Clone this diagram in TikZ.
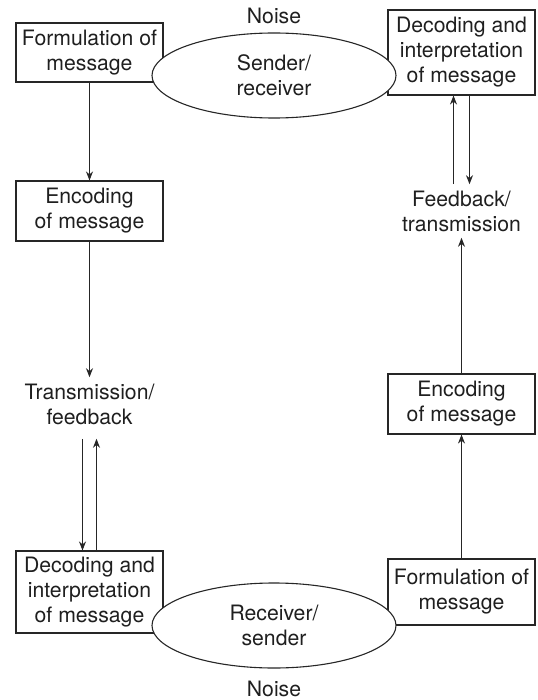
\documentclass[tikz,border=0pt]{standalone}
\usepackage{fontspec}
\setmainfont{TeX Gyre Heros}
\usepackage{tikz}
\usetikzlibrary{shapes.geometric}
\usetikzlibrary{arrows.meta}

\begin{document}
\begin{tikzpicture}[x=0.5pt,y=-0.5pt,>={Stealth[length=4.5pt,width=3.5pt]},
  every node/.style={font=\fontsize{10.6pt}{12.5pt}\selectfont,text=black!88},
  box/.style={draw=black!85,line width=0.55pt,fill=white,align=center,inner sep=0pt,
    minimum width=73.5pt},
  oval/.style={draw=black!85,ellipse,line width=0.55pt,fill=white,align=center,
    inner sep=0pt,minimum width=122pt,minimum height=42.5pt},
  lbl/.style={align=center,inner sep=3pt},
  link/.style={->,draw=black!85,line width=0.5pt}]

\useasboundingbox (0,0) rectangle (537,700);

% Sender side
\node (noisetop) at (274,16) {Noise};
\node[box,minimum height=29.5pt] (formtop) at (89.5,52.5) {Formulation of\\message};
\node[box,minimum height=42.5pt] (dectop) at (461.5,52.5)
{Decoding and\\interpretation\\of message};
\node[oval] (sender) at (274,75.5) {Sender/\\receiver};

% Left column
\node[box,minimum height=30pt] (encleft) at (89.5,211) {Encoding\\of message};
\node[lbl] (trans) at (89.5,404) {Transmission/\\feedback};

% Right column
\node[lbl] (feed) at (461.5,211) {Feedback/\\transmission};
\node[box,minimum height=30pt] (encright) at (461.5,404) {Encoding\\of message};

% Receiver side
\node[box,minimum height=41pt] (decbot) at (89.5,592)
{Decoding and\\interpretation\\of message};
\node[box,minimum height=33pt] (formbot) at (461.5,592) {Formulation of\\message};
\node[oval] (receiver) at (274,625.5) {Receiver/\\sender};
\node (noisebot) at (274,689) {Noise};

% Arrows down the left
\draw[link] (formtop) -- (encleft);
\draw[link] (encleft) -- (trans);
\draw[link] ([xshift=-3.5pt,yshift=-4pt]trans.south) -- ([xshift=-3.5pt]decbot.north);
\draw[link] ([xshift=3.5pt]decbot.north) -- ([xshift=3.5pt,yshift=-4pt]trans.south);

% Arrows up the right
\draw[link] (formbot) -- (encright);
\draw[link] (encright) -- (feed);
\draw[link] ([xshift=-4pt]feed.north) -- ([xshift=-4pt]dectop.south);
\draw[link] ([xshift=4pt]dectop.south) -- ([xshift=4pt]feed.north);

\end{tikzpicture}
\end{document}
